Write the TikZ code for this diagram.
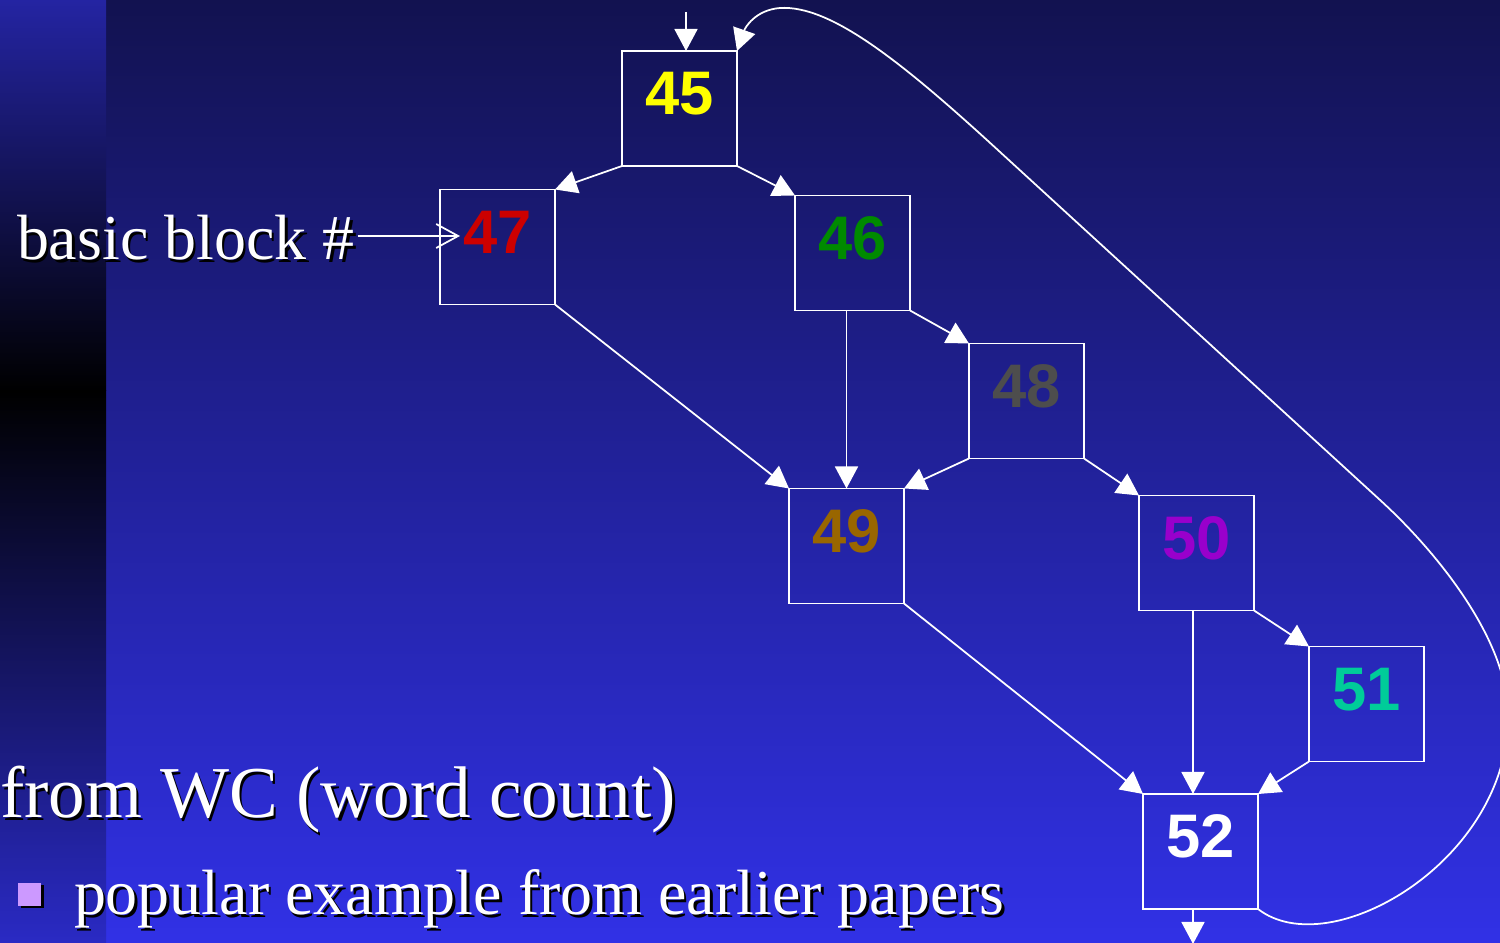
\documentclass[tikz,border=0pt]{standalone}
\usepackage{fontspec}
\setmainfont{Liberation Serif}
\newfontfamily\blockfont{Liberation Sans}
\usepackage{tikz}
\usetikzlibrary{arrows.meta, positioning, calc}
\usepackage{xcolor}

\definecolor{bgtop}{HTML}{121250}
\definecolor{bgmid}{HTML}{2222AA}
\definecolor{bgbottom}{HTML}{3131E6}
\definecolor{striptop}{HTML}{2424A2}
\definecolor{stripbottom}{HTML}{2A2AC4}
\definecolor{bullet}{HTML}{CC99FF}
\definecolor{c45}{HTML}{FFFF00}
\definecolor{c46}{HTML}{008A00}
\definecolor{c47}{HTML}{CC0000}
\definecolor{c48}{HTML}{4D4D4D}
\definecolor{c49}{HTML}{996600}
\definecolor{c50}{HTML}{9900CC}
\definecolor{c51}{HTML}{00CC99}

% texto blanco con sombra negra
\newcommand{\shadowed}[1]{\makebox[0pt][l]{\hspace{0.05cm}\raisebox{-0.05cm}{\color{black}#1}}#1}

\begin{document}
\begin{tikzpicture}[
        box/.style={draw=white, line width=1.1pt, rectangle, minimum size=2.3cm, inner sep=0pt, outer sep=0pt, text depth=0.6cm, font=\blockfont\bfseries\fontsize{35}{35}\selectfont},
        arrow/.style={-{Triangle[length=0.44cm, width=0.46cm]}, white, line width=1pt},
        pointer/.style={-{Straight Barb[length=0.44cm, width=0.48cm]}, white, line width=1pt},
        slide/.style={inner sep=0pt, outer sep=0pt, text=white}
    ]
        % Fondo
        \useasboundingbox (0,0) rectangle (30,18.86);
        \shade[top color=bgtop, middle color=bgmid, bottom color=bgbottom] (0,0) rectangle (30,18.86);
        \shade[top color=striptop, bottom color=black] (0,11.04) rectangle (2.12,18.86);
        \shade[top color=black, bottom color=stripbottom] (0,0) rectangle (2.12,11.04);

        % Bloques basicos
        \node[box, text=c45] (bb45) at (13.59,16.69) {45};
        \node[box, text=c47, below left=0.47cm and 1.34cm of bb45] (bb47) {47};
        \node[box, text=c46, below right=0.59cm and 1.16cm of bb45] (bb46) {46};
        \node[box, text=c48, below right=0.66cm and 1.18cm of bb46] (bb48) {48};
        \node[box, text=c49, below=3.56cm of bb46, xshift=-0.12cm] (bb49) {49};
        \node[box, text=c50, below right=0.74cm and 1.1cm of bb48] (bb50) {50};
        \node[box, text=c51, below right=0.72cm and 1.1cm of bb50] (bb51) {51};
        \node[box, text=white, below=3.67cm of bb50, xshift=0.08cm] (bb52) {52};

        % Textos
        \node[slide, anchor=base west, font=\fontsize{36.4}{40}\selectfont] (lbl) at (0.34,13.66) {\shadowed{basic block \#}};
        \node[slide, anchor=base west, font=\fontsize{41.6}{46}\selectfont] (src) at (0,2.5) {\shadowed{from WC (word count)}};
        \node[slide, anchor=base west, font=\fontsize{36.4}{40}\selectfont] (note) at (1.48,0.56) {\shadowed{popular example from earlier papers}};
        \fill[black] (0.41,0.69) rectangle (0.87,1.15);
        \fill[bullet] (0.36,0.74) rectangle (0.82,1.2);

        % Conexiones
        \coordinate (entry) at ([xshift=0.13cm, yshift=0.78cm]bb45.north);
        \coordinate (exit) at ([xshift=-0.15cm, yshift=-0.7cm]bb52.south);
        \coordinate (tip) at ([xshift=0.4cm, yshift=0.22cm]bb47.west);
        \draw[pointer] ([xshift=0.06cm]lbl.east |- tip) -- (tip);
        \draw[arrow] (entry) -- (entry |- bb45.north);
        \draw[arrow] (bb45.south west) -- (bb47.north east);
        \draw[arrow] (bb45.south east) -- (bb46.north west);
        \draw[arrow] (bb47.south east) -- (bb49.north west);
        \draw[arrow] (bb49.north |- bb46.south) -- (bb49.north);
        \draw[arrow] (bb46.south east) -- (bb48.north west);
        \draw[arrow] (bb48.south west) -- (bb49.north east);
        \draw[arrow] (bb48.south east) -- (bb50.north west);
        \draw[arrow] (bb49.south east) -- (bb52.north west);
        \draw[arrow] ([xshift=-0.07cm]bb50.south) -- ([xshift=-0.07cm]bb50.south |- bb52.north);
        \draw[arrow] (bb50.south east) -- (bb51.north west);
        \draw[arrow] (bb51.south west) -- (bb52.north east);
        \draw[arrow] (exit |- bb52.south) -- (exit);

        % Arco de vuelta del bucle
        \draw[arrow] (bb52.south east) .. controls (26.6,-0.44) and (30.2,1.66) .. (30.16,4.56)
            .. controls (30.16,6.06) and (28.74,7.82) .. (27.6,8.86)
            -- (20,15.82)
            .. controls (18,17.66) and (16.6,18.76) .. (15.6,18.7)
            .. controls (15.1,18.66) and (14.9,18.3) .. (bb45.north east);
\end{tikzpicture}
\end{document}
